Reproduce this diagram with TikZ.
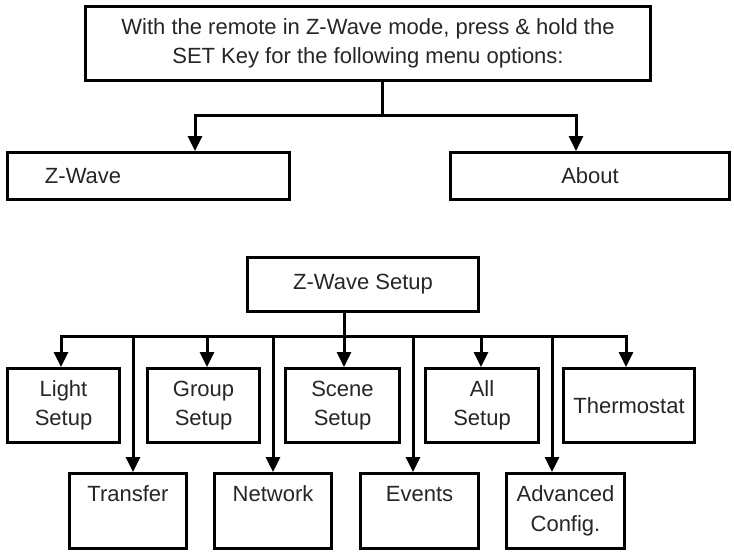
\documentclass[tikz,border=0pt]{standalone}
\usepackage{fontspec}
\setmainfont{Liberation Sans}
\usetikzlibrary{arrows.meta}

\begin{document}
\begin{tikzpicture}[x=1pt, y=-1pt,
  box/.style={draw, line width=3pt, fill=white, align=center, inner sep=0pt, text=black!85},
  link/.style={line width=3pt},
  arrow/.style={link, -{Triangle[length=15pt,width=14pt]}},
  font=\fontsize{22}{29.5}\selectfont]

 \useasboundingbox (0,0) rectangle (734,552);

 %level 1
 \node[box, minimum width=565pt, minimum height=74pt] (intro) at (368,43.5)
   {With the remote in Z-Wave mode, press \& hold the\\SET Key for the following menu options:};
 \node[box, minimum width=282pt, minimum height=47pt, text width=207pt, align=left] (zwave) at (148.5,176) {Z-Wave};
 \node[box, minimum width=279pt, minimum height=47pt] (about) at (590,176) {About};

 \coordinate (j1) at (382,115);
 \coordinate (a1) at (195,115);
 \coordinate (a2) at (576,115);
 \draw[link] (intro.south -| j1) -- (j1);
 \draw[arrow] (j1) -| (a1 |- zwave.north);
 \draw[arrow] (j1) -| (a2 |- about.north);

 %level 2
 \node[box, minimum width=231pt, minimum height=54pt] (zsetup) at (363,284.5) {Z-Wave Setup};

 \foreach \x/\w/\name/\n in {63.5/112/{Light\\Setup}/light, 203.5/112/{Group\\Setup}/group,
     342.5/114/{Scene\\Setup}/scene, 482/113/{All\\Setup}/all, 629/131/{Thermostat}/thermo} {
   \node[box, minimum width=\w pt, minimum height=74pt] (\n) at (\x,405.5) {\name};
 }

 \foreach \x/\w/\name/\n in {128/117/{Transfer\\\vphantom{Cg}}/transfer, 273/117/{Network\\\vphantom{Cg}}/network,
     419.5/118/{Events\\\vphantom{Cg}}/events, 565.5/118/{Advanced\\Config.}/advanced} {
   \node[box, minimum width=\w pt, minimum height=75pt] (\n) at (\x,511) {\name};
 }

 % lines
 \coordinate (hub) at (344,336);
 \draw[link] (zsetup.south -| hub) -- (hub);
 \foreach \x/\n in {61/light, 133/transfer, 207/group, 273/network, 344/scene,
     413/events, 481/all, 552/advanced, 626/thermo} {
   \coordinate (t\n) at (\x,336);
   \draw[arrow] (hub) -| (t\n |- \n.north);
 }

\end{tikzpicture}
\end{document}
